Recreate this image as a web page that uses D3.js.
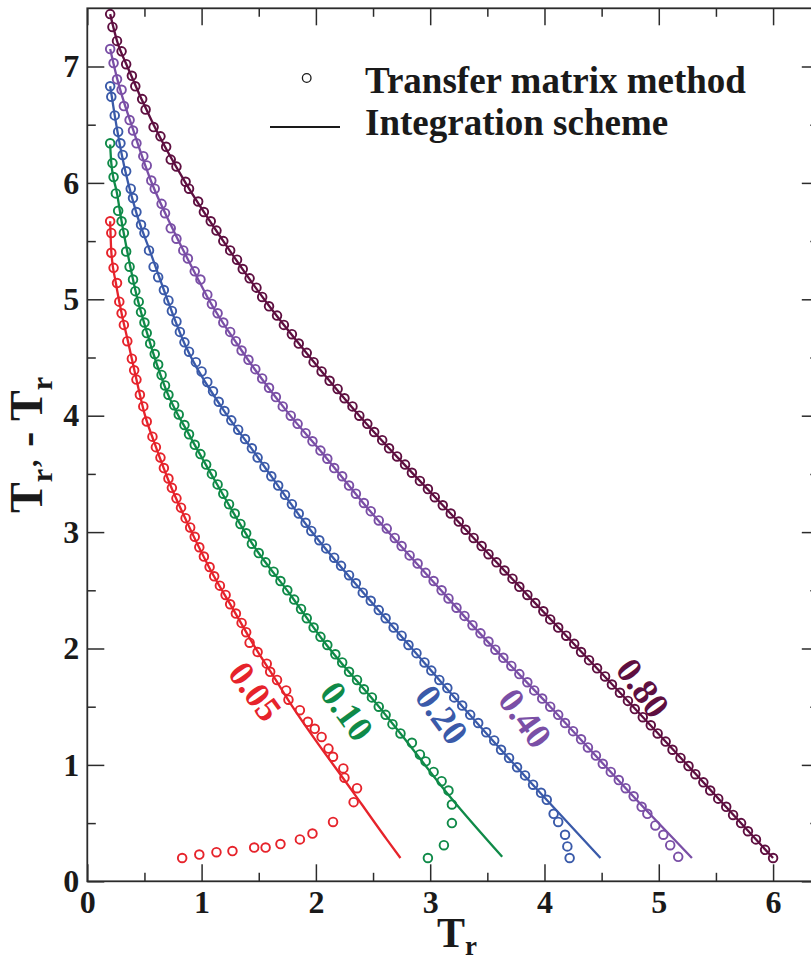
<!DOCTYPE html>
<html>
<head>
<meta charset="utf-8">
<script src="https://cdn.jsdelivr.net/npm/d3@7"></script>
<style>
  body { margin: 0; background: #fff; }
  svg { display: block; }
</style>
</head>
<body>
<svg id="chart" width="811" height="960"></svg>
<script>
// ---- data ----
const xTicks = [0, 1, 2, 3, 4, 5, 6];
const xMinorTicks = [0.5, 1.5, 2.5, 3.5, 4.5, 5.5];
const yTicks = [0, 1, 2, 3, 4, 5, 6, 7];
const yMinorTicks = [0.5, 1.5, 2.5, 3.5, 4.5, 5.5, 6.5];
const couplings = ["0.05", "0.10", "0.20", "0.40", "0.80"];
const legendLabels = ["Transfer matrix method", "Integration scheme"];

// integration scheme curves, [Tr, Tr' - Tr]
const integration005 = [[0.20,5.67],[0.21,5.41],[0.25,5.14],[0.30,4.88],[0.36,4.62],[0.43,4.31],[0.50,4.02],[0.59,3.76],[0.72,3.42],[0.87,3.09],[1.07,2.69],[1.28,2.33],[1.48,1.99],[1.63,1.76],[1.75,1.57],[2.33,0.76],[2.62,0.36],[2.74,0.20]];
const integration010 = [[0.20,6.33],[0.21,6.17],[0.26,5.91],[0.30,5.67],[0.35,5.41],[0.42,5.08],[0.52,4.72],[0.69,4.22],[0.90,3.82],[1.13,3.42],[1.45,2.89],[1.77,2.47],[2.07,2.06],[2.56,1.49],[2.74,1.27],[3.17,0.73],[3.63,0.21]];
const integration020 = [[0.20,6.83],[0.24,6.58],[0.30,6.25],[0.43,5.74],[0.55,5.41],[0.67,5.08],[0.85,4.62],[1.17,4.08],[1.45,3.70],[1.95,3.02],[2.44,2.45],[2.84,2.00],[3.23,1.56],[3.99,0.73],[4.49,0.20]];
const integration040 = [[0.20,7.15],[0.26,6.90],[0.40,6.46],[0.56,6.01],[0.75,5.60],[0.96,5.19],[1.05,5.02],[1.35,4.56],[1.76,4.02],[2.03,3.71],[2.44,3.22],[3.14,2.45],[3.35,2.22],[4.05,1.50],[4.92,0.58],[5.29,0.20]];
const integration080 = [[0.20,7.45],[0.26,7.22],[0.35,7.00],[0.58,6.50],[0.86,6.00],[1.19,5.50],[1.57,4.97],[1.95,4.50],[2.38,4.00],[2.88,3.47],[3.38,2.95],[3.86,2.45],[4.69,1.59],[6.00,0.20]];

// transfer matrix method points, [Tr, Tr' - Tr]
const transfer005 = [[0.20,5.67],[0.21,5.57],[0.21,5.40],[0.23,5.27],[0.26,5.14],[0.28,4.98],[0.30,4.88],[0.32,4.78],[0.35,4.64],[0.39,4.49],[0.41,4.39],[0.43,4.31],[0.46,4.18],[0.49,4.08],[0.52,3.95],[0.57,3.82],[0.60,3.73],[0.64,3.64],[0.67,3.55],[0.71,3.46],[0.74,3.38],[0.78,3.29],[0.82,3.21],[0.86,3.12],[0.90,3.04],[0.94,2.96],[0.98,2.87],[1.02,2.79],[1.07,2.70],[1.11,2.62],[1.16,2.54],[1.21,2.46],[1.25,2.38],[1.30,2.30],[1.35,2.22],[1.39,2.14],[1.42,2.05],[1.49,1.97],[1.57,1.87],[1.60,1.80],[1.66,1.73],[1.74,1.64],[1.76,1.56],[1.86,1.47],[1.93,1.37],[1.99,1.31],[2.05,1.24],[2.11,1.14],[2.15,1.07],[2.24,0.97],[2.25,0.89],[2.36,0.80],[2.33,0.68],[0.83,0.20],[0.98,0.23],[1.13,0.25],[1.27,0.26],[1.46,0.29],[1.56,0.29],[1.69,0.32],[1.86,0.36],[1.97,0.41],[2.15,0.51]];
const transfer010 = [[0.20,6.34],[0.22,6.17],[0.23,6.05],[0.25,5.91],[0.27,5.76],[0.30,5.67],[0.32,5.57],[0.34,5.41],[0.37,5.28],[0.40,5.17],[0.42,5.07],[0.45,4.98],[0.47,4.89],[0.50,4.80],[0.52,4.71],[0.55,4.62],[0.59,4.53],[0.62,4.44],[0.65,4.35],[0.68,4.26],[0.71,4.18],[0.76,4.09],[0.80,4.01],[0.85,3.92],[0.89,3.84],[0.94,3.75],[0.99,3.67],[1.04,3.58],[1.09,3.50],[1.14,3.41],[1.19,3.33],[1.24,3.24],[1.29,3.16],[1.34,3.07],[1.39,2.99],[1.44,2.90],[1.50,2.82],[1.56,2.74],[1.63,2.66],[1.69,2.58],[1.75,2.50],[1.81,2.42],[1.87,2.34],[1.92,2.26],[1.98,2.18],[2.04,2.10],[2.10,2.03],[2.17,1.95],[2.23,1.88],[2.29,1.80],[2.36,1.73],[2.42,1.65],[2.49,1.58],[2.55,1.50],[2.61,1.43],[2.67,1.35],[2.74,1.27],[2.84,1.19],[2.91,1.09],[2.96,1.03],[3.03,0.94],[3.10,0.86],[3.16,0.78],[3.19,0.66],[3.19,0.50],[3.12,0.31],[2.98,0.20]];
const transfer020 = [[0.20,6.83],[0.21,6.74],[0.24,6.58],[0.27,6.44],[0.29,6.34],[0.31,6.24],[0.34,6.10],[0.38,5.95],[0.40,5.87],[0.43,5.75],[0.47,5.64],[0.50,5.57],[0.54,5.42],[0.58,5.28],[0.62,5.19],[0.67,5.08],[0.71,4.99],[0.74,4.90],[0.78,4.81],[0.81,4.72],[0.85,4.63],[0.89,4.55],[0.95,4.46],[1.00,4.38],[1.05,4.29],[1.10,4.21],[1.15,4.12],[1.20,4.04],[1.26,3.96],[1.32,3.88],[1.38,3.80],[1.44,3.72],[1.49,3.64],[1.55,3.56],[1.61,3.48],[1.67,3.40],[1.73,3.32],[1.79,3.24],[1.85,3.16],[1.91,3.08],[1.96,3.01],[2.03,2.93],[2.09,2.86],[2.16,2.78],[2.22,2.71],[2.29,2.63],[2.35,2.56],[2.41,2.48],[2.48,2.41],[2.55,2.33],[2.61,2.26],[2.68,2.18],[2.75,2.11],[2.81,2.03],[2.88,1.96],[2.95,1.88],[3.01,1.81],[3.08,1.73],[3.15,1.66],[3.21,1.58],[3.28,1.51],[3.35,1.43],[3.42,1.36],[3.49,1.28],[3.56,1.21],[3.62,1.13],[3.69,1.06],[3.76,0.98],[3.83,0.91],[3.90,0.83],[3.97,0.76],[4.02,0.70],[4.08,0.58],[4.12,0.51],[4.18,0.40],[4.20,0.30],[4.22,0.20]];
const transfer040 = [[0.20,7.15],[0.23,7.03],[0.26,6.89],[0.30,6.80],[0.32,6.66],[0.37,6.54],[0.40,6.45],[0.43,6.34],[0.49,6.23],[0.52,6.15],[0.56,6.02],[0.59,5.95],[0.65,5.82],[0.68,5.74],[0.73,5.61],[0.78,5.52],[0.84,5.42],[0.88,5.35],[0.94,5.24],[0.99,5.17],[1.05,5.04],[1.09,4.96],[1.14,4.88],[1.19,4.80],[1.25,4.72],[1.30,4.64],[1.35,4.56],[1.41,4.48],[1.47,4.40],[1.53,4.32],[1.59,4.24],[1.65,4.16],[1.71,4.08],[1.78,4.00],[1.84,3.93],[1.91,3.85],[1.97,3.78],[2.04,3.70],[2.10,3.63],[2.16,3.55],[2.23,3.48],[2.29,3.40],[2.35,3.33],[2.42,3.25],[2.48,3.18],[2.55,3.10],[2.62,3.03],[2.69,2.95],[2.75,2.88],[2.82,2.80],[2.89,2.73],[2.96,2.65],[3.03,2.58],[3.10,2.50],[3.16,2.43],[3.23,2.35],[3.30,2.28],[3.37,2.20],[3.44,2.13],[3.51,2.06],[3.57,1.99],[3.64,1.92],[3.71,1.85],[3.78,1.78],[3.85,1.71],[3.91,1.64],[3.98,1.57],[4.05,1.50],[4.12,1.43],[4.18,1.36],[4.25,1.29],[4.32,1.22],[4.38,1.15],[4.45,1.08],[4.51,1.01],[4.58,0.94],[4.65,0.87],[4.71,0.80],[4.78,0.73],[4.85,0.64],[4.90,0.58],[4.97,0.48],[5.04,0.40],[5.10,0.31],[5.17,0.21]];
const transfer080 = [[0.20,7.45],[0.22,7.34],[0.26,7.22],[0.30,7.13],[0.34,7.02],[0.39,6.92],[0.42,6.83],[0.48,6.72],[0.51,6.63],[0.58,6.48],[0.64,6.40],[0.69,6.31],[0.73,6.20],[0.78,6.14],[0.86,6.01],[0.89,5.95],[0.97,5.84],[1.02,5.75],[1.08,5.67],[1.13,5.59],[1.19,5.50],[1.25,5.42],[1.31,5.34],[1.36,5.26],[1.42,5.18],[1.48,5.10],[1.53,5.02],[1.59,4.94],[1.66,4.86],[1.72,4.78],[1.79,4.70],[1.85,4.62],[1.92,4.54],[1.98,4.46],[2.05,4.38],[2.12,4.30],[2.19,4.23],[2.25,4.15],[2.32,4.08],[2.38,4.00],[2.45,3.93],[2.51,3.86],[2.58,3.79],[2.64,3.72],[2.71,3.65],[2.78,3.58],[2.84,3.51],[2.91,3.44],[2.98,3.37],[3.04,3.30],[3.11,3.23],[3.18,3.16],[3.25,3.09],[3.31,3.02],[3.38,2.95],[3.45,2.88],[3.51,2.81],[3.58,2.74],[3.65,2.67],[3.72,2.60],[3.78,2.53],[3.85,2.46],[3.92,2.39],[3.99,2.32],[4.05,2.25],[4.12,2.18],[4.19,2.11],[4.26,2.04],[4.32,1.97],[4.39,1.90],[4.46,1.83],[4.53,1.76],[4.59,1.69],[4.66,1.62],[4.73,1.55],[4.79,1.48],[4.86,1.41],[4.93,1.34],[4.99,1.27],[5.06,1.20],[5.12,1.13],[5.19,1.06],[5.26,0.99],[5.32,0.92],[5.39,0.85],[5.45,0.78],[5.52,0.71],[5.59,0.64],[5.65,0.57],[5.72,0.50],[5.78,0.43],[5.85,0.36],[5.93,0.27],[6.00,0.20]];

// ---- layout ----
const svg = d3.select("#chart");
const serif = "'Liberation Serif', 'Times New Roman', serif";
const axisColor = "#2b2b2b";
const colors = ["#e6232b", "#0f8a48", "#3a5aa9", "#7a4fa6", "#5e0f40"];

const x = d3.scaleLinear().domain([0, 6.4]).range([87.3, 818.8]);
const y = d3.scaleLinear().domain([0, 7.5]).range([881.3, 8.3]);

const series = [
  { line: integration005, pts: transfer005 },
  { line: integration010, pts: transfer010 },
  { line: integration020, pts: transfer020 },
  { line: integration040, pts: transfer040 },
  { line: integration080, pts: transfer080 }
];

// label anchor (Tr, Tr' - Tr) next to each curve
const labelAt = [[1.467, 1.63], [2.27, 1.46], [3.10, 1.43], [3.83, 1.40], [4.86, 1.66]];

// ---- curves ----
const lineGen = d3.line()
  .x(d => x(d[0]))
  .y(d => y(d[1]))
  .curve(d3.curveMonotoneX);

const plot = svg.append("g");
series.forEach((s, i) => {
  plot.append("path")
    .datum(s.line)
    .attr("d", lineGen)
    .attr("fill", "none")
    .attr("stroke", colors[i])
    .attr("stroke-width", 2.3);
});
series.forEach((s, i) => {
  plot.append("g")
    .selectAll("circle")
    .data(s.pts)
    .join("circle")
    .attr("cx", d => x(d[0]))
    .attr("cy", d => y(d[1]))
    .attr("r", 4.3)
    .attr("fill", "none")
    .attr("stroke", colors[i])
    .attr("stroke-width", 1.9);
});

// ---- curve labels ----
couplings.forEach((lab, i) => {
  svg.append("text")
    .attr("transform", `translate(${x(labelAt[i][0])},${y(labelAt[i][1])}) rotate(54)`)
    .attr("text-anchor", "middle")
    .attr("dominant-baseline", "central")
    .attr("font-family", serif)
    .attr("font-weight", "bold")
    .attr("font-size", 36)
    .attr("fill", colors[i])
    .text(lab);
});

// ---- axes ----
function styleAxis(g) {
  g.select(".domain").remove();
  g.selectAll(".tick line").attr("stroke", axisColor).attr("stroke-width", 1.5);
  g.selectAll(".tick text")
    .attr("font-family", serif)
    .attr("font-weight", "bold")
    .attr("font-size", 32)
    .attr("fill", "#1a1a1a");
}
const major = 17, minor = 8.5;

svg.append("g").attr("transform", `translate(0,${y(0)})`)
  .call(d3.axisBottom(x).tickValues(xTicks).tickSize(-major).tickPadding(9).tickFormat(d3.format("d")))
  .call(styleAxis);
svg.append("g").attr("transform", `translate(0,${y(0)})`)
  .call(d3.axisBottom(x).tickValues(xMinorTicks).tickSize(-minor).tickFormat(""))
  .call(styleAxis);
svg.append("g").attr("transform", `translate(0,${y(7.5)})`)
  .call(d3.axisTop(x).tickValues(xTicks).tickSize(-major).tickFormat(""))
  .call(styleAxis);
svg.append("g").attr("transform", `translate(0,${y(7.5)})`)
  .call(d3.axisTop(x).tickValues(xMinorTicks).tickSize(-minor).tickFormat(""))
  .call(styleAxis);
svg.append("g").attr("transform", `translate(${x(0)},0)`)
  .call(d3.axisLeft(y).tickValues(yTicks).tickSize(-major).tickPadding(8).tickFormat(d3.format("d")))
  .call(styleAxis);
svg.append("g").attr("transform", `translate(${x(0)},0)`)
  .call(d3.axisLeft(y).tickValues(yMinorTicks).tickSize(-minor).tickFormat(""))
  .call(styleAxis);
svg.append("g").attr("transform", `translate(${x(6.4)},0)`)
  .call(d3.axisRight(y).tickValues(yTicks).tickSize(-major).tickFormat(""))
  .call(styleAxis);
svg.append("g").attr("transform", `translate(${x(6.4)},0)`)
  .call(d3.axisRight(y).tickValues(yMinorTicks).tickSize(-minor).tickFormat(""))
  .call(styleAxis);

// frame
svg.append("rect")
  .attr("x", x(0)).attr("y", y(7.5))
  .attr("width", x(6.4) - x(0)).attr("height", y(0) - y(7.5))
  .attr("fill", "none").attr("stroke", axisColor).attr("stroke-width", 1.8);

// ---- axis titles ----
const xTitle = svg.append("text")
  .attr("x", 437).attr("y", 947)
  .attr("font-family", serif).attr("font-weight", "bold")
  .attr("font-size", 42).attr("fill", "#1a1a1a");
xTitle.append("tspan").text("T");
xTitle.append("tspan").attr("font-size", 27).attr("dy", 8).text("r");

const yTitle = svg.append("text")
  .attr("transform", "translate(42,445) rotate(-90)")
  .attr("text-anchor", "middle")
  .attr("font-family", serif).attr("font-weight", "bold")
  .attr("font-size", 46).attr("fill", "#1a1a1a");
yTitle.append("tspan").text("T");
yTitle.append("tspan").attr("font-size", 30).attr("dy", 10).text("r’");
yTitle.append("tspan").attr("dy", -10).text(" - T");
yTitle.append("tspan").attr("font-size", 30).attr("dy", 10).text("r");

// ---- legend ----
const legend = svg.append("g");
legend.append("circle")
  .attr("cx", 306.7).attr("cy", 78).attr("r", 4.3)
  .attr("fill", "none").attr("stroke", "#1a1a1a").attr("stroke-width", 1.3);
legend.append("line")
  .attr("x1", 270).attr("x2", 340).attr("y1", 127).attr("y2", 127)
  .attr("stroke", "#1a1a1a").attr("stroke-width", 2.2);
legend.selectAll("text.leg")
  .data(legendLabels)
  .join("text")
  .attr("class", "leg")
  .attr("x", 365)
  .attr("y", (d, i) => 93 + i * 42)
  .attr("font-family", serif).attr("font-weight", "bold")
  .attr("font-size", 37).attr("fill", "#1a1a1a")
  .text(d => d);
</script>
</body>
</html>
